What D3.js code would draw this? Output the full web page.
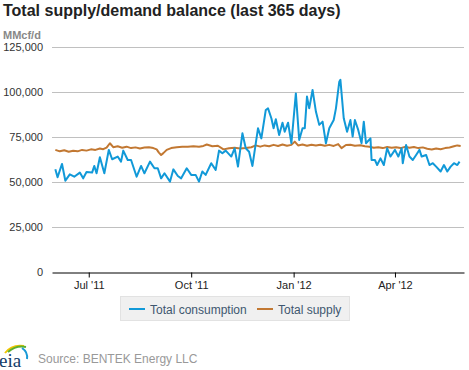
<!DOCTYPE html>
<html><head><meta charset="utf-8">
<script src="https://cdn.jsdelivr.net/npm/d3@7"></script>
<style>body{margin:0;background:#fff}svg{display:block;font-family:"Liberation Sans",Arial,sans-serif}</style>
</head><body><svg id="c" width="469" height="370"></svg>
<script>
const title = "Total supply/demand balance (last 365 days)";
const unitLabel = "MMcf/d";
const source = "Source: BENTEK Energy LLC";
const seriesNames = ["Total consumption", "Total supply"];
const yTicks = [0, 25000, 50000, 75000, 100000, 125000];
const xTicks = ["2011-07-01", "2011-10-01", "2012-01-01", "2012-04-01"];
const xDomain = ["2011-05-29", "2012-06-02"];

const consumptionDates = ["2011-06-01","2011-06-03","2011-06-07","2011-06-10","2011-06-14","2011-06-18","2011-06-23","2011-06-26","2011-06-29","2011-07-04","2011-07-06","2011-07-08","2011-07-11","2011-07-15","2011-07-19","2011-07-22","2011-07-27","2011-07-30","2011-08-01","2011-08-05","2011-08-08","2011-08-13","2011-08-17","2011-08-20","2011-08-25","2011-08-29","2011-09-01","2011-09-04","2011-09-07","2011-09-12","2011-09-15","2011-09-19","2011-09-22","2011-09-27","2011-10-01","2011-10-05","2011-10-08","2011-10-11","2011-10-14","2011-10-19","2011-10-23","2011-10-26","2011-10-29","2011-11-01","2011-11-06","2011-11-09","2011-11-12","2011-11-16","2011-11-19","2011-11-22","2011-11-25","2011-11-30","2011-12-03","2011-12-07","2011-12-09","2011-12-12","2011-12-14","2011-12-16","2011-12-19","2011-12-22","2011-12-24","2011-12-27","2011-12-30","2012-01-03","2012-01-06","2012-01-09","2012-01-11","2012-01-13","2012-01-15","2012-01-18","2012-01-21","2012-01-24","2012-01-27","2012-01-30","2012-02-02","2012-02-06","2012-02-08","2012-02-11","2012-02-12","2012-02-15","2012-02-18","2012-02-21","2012-02-23","2012-02-25","2012-02-28","2012-03-02","2012-03-04","2012-03-06","2012-03-10","2012-03-11","2012-03-14","2012-03-16","2012-03-19","2012-03-22","2012-03-25","2012-03-28","2012-04-01","2012-04-04","2012-04-07","2012-04-08","2012-04-11","2012-04-14","2012-04-17","2012-04-20","2012-04-23","2012-04-25","2012-04-29","2012-05-02","2012-05-05","2012-05-08","2012-05-12","2012-05-15","2012-05-18","2012-05-21","2012-05-24","2012-05-27","2012-05-29"];
const consumptionValues = [57200,52800,60200,50900,54400,53100,55400,52200,55700,55400,59100,55000,63900,55000,68000,62800,64300,61500,67600,62400,62400,53100,59100,55000,61500,57800,57800,52200,55000,50400,57200,53500,52200,57800,54100,54100,50400,56000,54100,60600,56900,67600,66100,67600,64300,68900,58700,77200,68900,67000,59100,80000,74400,90200,91100,85600,80000,85000,76300,83100,78100,83100,71700,99400,73500,80000,80000,97600,91100,101300,89300,81900,83700,71700,80000,84600,91100,105900,106900,85600,78100,84600,75400,84600,79100,71700,83700,71700,74400,62400,62400,59600,63300,59600,68900,64300,68000,64300,68900,60600,70700,64300,62400,65200,68000,64300,65200,59600,60600,58700,56000,59600,56000,58700,60600,59600,61500];

const supplyDates = ["2011-06-01","2011-06-05","2011-06-09","2011-06-13","2011-06-17","2011-06-21","2011-06-25","2011-06-29","2011-07-03","2011-07-07","2011-07-11","2011-07-14","2011-07-17","2011-07-20","2011-07-23","2011-07-27","2011-07-31","2011-08-04","2011-08-08","2011-08-12","2011-08-16","2011-08-20","2011-08-24","2011-08-28","2011-08-31","2011-09-02","2011-09-04","2011-09-06","2011-09-09","2011-09-13","2011-09-18","2011-09-23","2011-09-28","2011-10-03","2011-10-08","2011-10-12","2011-10-15","2011-10-20","2011-10-25","2011-10-30","2011-11-04","2011-11-09","2011-11-14","2011-11-19","2011-11-24","2011-11-28","2011-12-02","2011-12-06","2011-12-10","2011-12-14","2011-12-18","2011-12-22","2011-12-26","2011-12-30","2012-01-02","2012-01-05","2012-01-09","2012-01-13","2012-01-17","2012-01-21","2012-01-25","2012-01-29","2012-02-02","2012-02-06","2012-02-10","2012-02-13","2012-02-17","2012-02-21","2012-02-25","2012-03-01","2012-03-05","2012-03-09","2012-03-13","2012-03-17","2012-03-21","2012-03-25","2012-03-29","2012-04-02","2012-04-06","2012-04-10","2012-04-14","2012-04-18","2012-04-22","2012-04-26","2012-04-30","2012-05-04","2012-05-08","2012-05-12","2012-05-16","2012-05-20","2012-05-24","2012-05-27","2012-05-30"];
const supplyValues = [68000,67200,67800,67000,67500,67200,68000,67600,68300,68000,68800,68400,69300,71700,69500,70000,69200,69800,69000,69400,68800,69300,69500,69000,68300,66500,65200,66200,68000,69000,69500,69800,69700,70000,69700,70200,71000,70000,70300,68300,68900,69200,68800,69000,69500,70500,69800,70500,70000,70800,70200,71000,70300,70800,72600,70500,71000,70300,70900,70400,70900,70300,70800,70200,71200,69000,70700,70900,70300,70600,70000,69800,69200,69500,69000,69600,69200,69500,69000,69700,69200,69600,69000,69400,68600,68200,68800,68400,69000,69300,70000,70500,70200];

const colors = ["#1199d8", "#c27832"];
const parse = d3.timeParse("%Y-%m-%d");
const svg = d3.select("#c");
const plotLeft = 52, plotRight = 464, plotTop = 47.3, plotBottom = 272.3;

const x = d3.scaleTime().domain(xDomain.map(parse)).range([plotLeft, plotRight]);
const y = d3.scaleLinear().domain([0, 125000]).range([plotBottom, plotTop]);

// title
svg.append("text").attr("x", 3).attr("y", 16).attr("font-size", 16).attr("font-weight", "bold").attr("fill", "#222").text(title);
svg.append("text").attr("x", 3).attr("y", 39).attr("font-size", 11).attr("font-weight", "bold").attr("fill", "#888").text(unitLabel);

// grid
svg.append("g").selectAll("line").data(yTicks.filter(d => d > 0)).join("line")
  .attr("x1", plotLeft).attr("x2", plotRight).attr("y1", d => Math.round(y(d)) + 0.5).attr("y2", d => Math.round(y(d)) + 0.5)
  .attr("stroke", "#c0c0c0").attr("stroke-width", 1);

// y axis labels
const ya = svg.append("g").attr("transform", `translate(${plotLeft},0)`)
  .call(d3.axisLeft(y).tickValues(yTicks).tickFormat(d3.format(",")).tickSize(0).tickPadding(9));
ya.select(".domain").remove();
ya.selectAll("text").attr("font-size", 11).attr("fill", "#333").attr("font-family", "Liberation Sans, Arial, sans-serif");

// x axis
const xa = svg.append("g").attr("transform", `translate(0,${Math.round(plotBottom) + 0.5})`)
  .call(d3.axisBottom(x).tickValues(xTicks.map(parse)).tickFormat(d3.timeFormat("%b '%y")).tickSize(5).tickSizeOuter(0).tickPadding(4));
xa.select(".domain").attr("stroke", "#000");
xa.selectAll(".tick line").attr("stroke", "#000");
xa.selectAll("text").attr("font-size", 11).attr("fill", "#222").attr("font-family", "Liberation Sans, Arial, sans-serif");

// lines
const line = d3.line().x(d => x(d[0])).y(d => y(d[1]));
const series = [
  consumptionDates.map((d, i) => [parse(d), consumptionValues[i]]),
  supplyDates.map((d, i) => [parse(d), supplyValues[i]])
];
[1, 0].forEach(i => {
  svg.append("path").datum(series[i]).attr("d", line).attr("fill", "none")
    .attr("stroke", colors[i]).attr("stroke-width", 2).attr("stroke-linejoin", "round");
});

// legend
const lg = svg.append("g");
lg.append("rect").attr("x", 120.5).attr("y", 296.5).attr("width", 229).attr("height", 24)
  .attr("fill", "#f0f0f0").attr("stroke", "#e2e2e2");
const itemX = [129, 257];
seriesNames.forEach((n, i) => {
  lg.append("line").attr("x1", itemX[i]).attr("x2", itemX[i] + 16).attr("y1", 309).attr("y2", 309)
    .attr("stroke", colors[i]).attr("stroke-width", 2);
  lg.append("text").attr("x", itemX[i] + 21).attr("y", 313.5).attr("font-size", 12).attr("fill", "#3e576f").text(n);
});

// footer logo
const logo = svg.append("g");
logo.append("path").attr("d", "M5,353 Q12,344 24,346").attr("fill", "none").attr("stroke", "#f2c500").attr("stroke-width", 2);
logo.append("path").attr("d", "M8,352 Q16,345 26,347").attr("fill", "none").attr("stroke", "#5cb030").attr("stroke-width", 2);
logo.append("path").attr("d", "M22,348 Q28,352 27,359").attr("fill", "none").attr("stroke", "#1a9ad6").attr("stroke-width", 2);
logo.append("text").attr("x", -1).attr("y", 367).attr("font-size", 19).attr("font-family", "Liberation Serif, serif").attr("fill", "#123c68").text("eia");
svg.append("text").attr("x", 38).attr("y", 363).attr("font-size", 12).attr("fill", "#999").text(source);
</script></body></html>
